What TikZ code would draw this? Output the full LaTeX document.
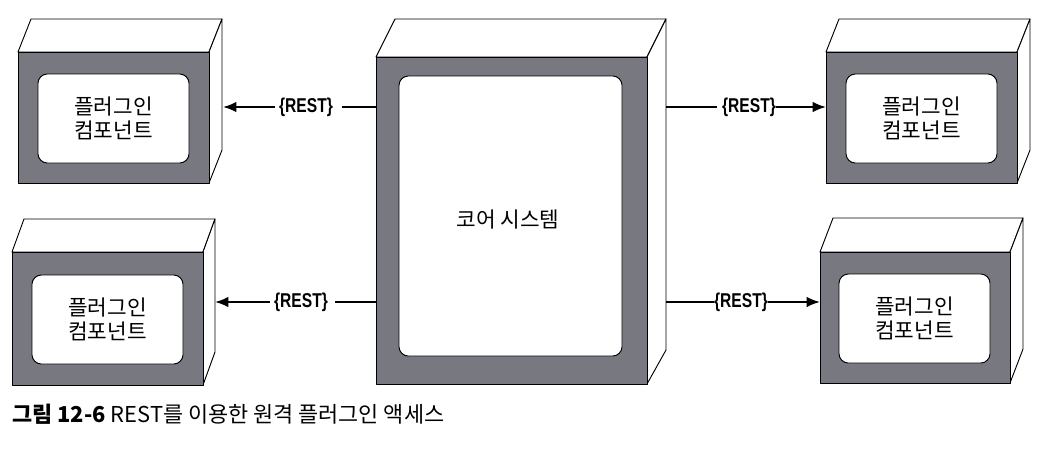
\documentclass[tikz,border=0pt]{standalone}
\usepackage{fontspec}
\setmainfont{Noto Sans CJK KR}
\newfontfamily\restfont{Liberation Sans Bold}[FakeStretch=0.78]
\usetikzlibrary{arrows.meta}
\definecolor{facegray}{RGB}{120,120,128}
\tikzset{
  edge/.style={draw=black, line width=0.7pt, line join=round},
  frontface/.style={edge, fill=facegray},
  sideface/.style={edge, fill=white},
  innerbox/.style={edge, fill=white, rounded corners=7pt},
  boxtext/.style={font=\fontsize{16pt}{18pt}\selectfont, align=center, inner sep=0pt},
  resttext/.style={font=\restfont\fontsize{15pt}{16pt}\selectfont, inner sep=0pt},
  conn/.style={draw=black, line width=1.6pt},
  arrowconn/.style={conn, -{Latex[length=10pt,width=8pt]}},
}
% #1 name, #2 x1, #3 y1, #4 x2, #5 y2, #6 dx, #7 dy
\newcommand\drawcube[7]{%
  \path[sideface] (#2,#3) -- ++(#6,-#7) -- ++(#4-#2,0) -- (#4,#3) -- cycle;
  \path[sideface] (#4,#3) -- ++(#6,-#7) -- ++(0,#5-#3) -- (#4,#5) -- cycle;
  \path[frontface] (#2,#3) rectangle (#4,#5);
}
\begin{document}
\begin{tikzpicture}[x=0.75pt,y=-0.75pt]
\useasboundingbox (0,0) rectangle (1052,454);
\fill[white] (0,0) rectangle (1052,454);

% top-left plugin
\drawcube{tl}{18}{52}{209}{183}{13}{33}
\path[innerbox] (38,74) rectangle (189,163);
\node[boxtext] (tlt) at (113.5,118.5) {플러그인\\컴포넌트};

% bottom-left plugin
\drawcube{bl}{12}{252}{203}{385}{12}{33}
\path[innerbox] (32,275) rectangle (183,364);
\node[boxtext] (blt) at (107.5,319.5) {플러그인\\컴포넌트};

% top-right plugin
\drawcube{tr}{826}{52}{1017}{183}{13}{33}
\path[innerbox] (846,74) rectangle (997,163);
\node[boxtext] (trt) at (921.5,118.5) {플러그인\\컴포넌트};

% bottom-right plugin
\drawcube{br}{820}{252}{1010}{383}{13}{34}
\path[innerbox] (839,274) rectangle (990,363);
\node[boxtext] (brt) at (914.5,318.5) {플러그인\\컴포넌트};

% core
\path[sideface] (376,57) -- (395,19) -- (666,19) -- (647,57) -- cycle;
\path[sideface] (647,57) -- (666,19) -- (666,350) -- (647,384) -- cycle;
\path[frontface] (376,57) rectangle (647,384);
\path[innerbox] (399,76) rectangle (622,356);
\node[boxtext] (core) at (508,220) {코어 시스템};

% connector end points
\coordinate (cL1) at (376,107);
\coordinate (cL2) at (376,302);
\coordinate (cR1) at (666,107);
\coordinate (cR2) at (666,302);
\coordinate (tlR) at (223,107);
\coordinate (blR) at (215,302);
\coordinate (trL) at (826,107);
\coordinate (brL) at (820,302);

% REST labels
\node[resttext] (r1) at (306,107) {\{REST\}};
\node[resttext] (r2) at (301,302) {\{REST\}};
\node[resttext] (r3) at (749,107) {\{REST\}};
\node[resttext] (r4) at (741,302) {\{REST\}};

\draw[conn] (cL1) -- ([xshift=7pt]r1.east |- cL1);
\draw[arrowconn] ([xshift=-3pt]r1.west |- cL1) -- (tlR);
\draw[conn] (cR1) -- ([xshift=-4pt]r3.west |- cR1);
\draw[arrowconn] (r3.east |- cR1) -- (trL);
\draw[conn] (cL2) -- ([xshift=5pt]r2.east |- cL2);
\draw[arrowconn] ([xshift=-3pt]r2.west |- cL2) -- (blR);
\draw[conn] (cR2) -- (r4.west |- cR2);
\draw[arrowconn] (r4.east |- cR2) -- (brL);

% caption
\node[anchor=base west, inner sep=0pt, font=\fontsize{16.4pt}{19pt}\selectfont] (cap) at (12,422) {\textbf{그림 12-6} REST를 이용한 원격 플러그인 액세스};
\end{tikzpicture}
\end{document}
